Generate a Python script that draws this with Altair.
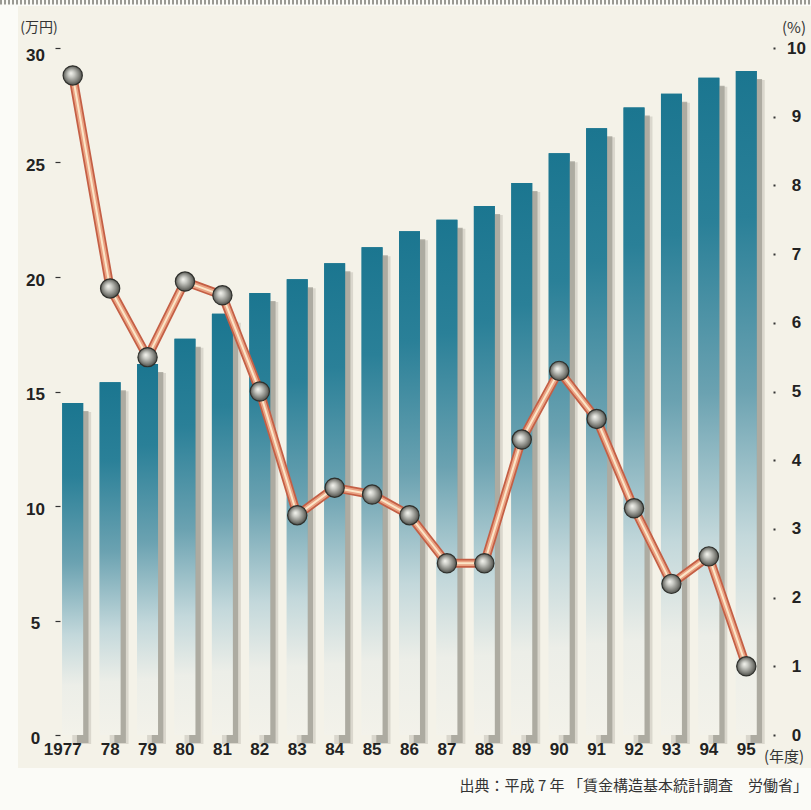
import altair as alt
import pandas as pd

years = ["1977", "78", "79", "80", "81", "82", "83", "84", "85", "86",
         "87", "88", "89", "90", "91", "92", "93", "94", "95"]
wage = [14.5, 15.4, 16.2, 17.3, 18.4, 19.3, 19.9, 20.6, 21.3, 22.0,
        22.5, 23.1, 24.1, 25.4, 26.5, 27.4, 28.0, 28.7, 29.0]
rate = [9.6, 6.5, 5.5, 6.6, 6.4, 5.0, 3.2, 3.6, 3.5, 3.2,
        2.5, 2.5, 4.3, 5.3, 4.6, 3.3, 2.2, 2.6, 1.0]

df = pd.DataFrame({"year": years, "wage": wage, "rate": rate})

W, H = 711, 687
PL, PT = 54, 48
NUM_FONT = "Liberation Sans"
JP_FONT = "Noto Sans CJK JP"

xscale = alt.Scale(paddingInner=0.44, paddingOuter=0.22)
xenc_axis = alt.X(
    "year:N", sort=years, scale=xscale, title=None,
    axis=alt.Axis(
        orient="bottom", domain=False, ticks=False, labelAngle=0, zindex=2,
        labelFont=NUM_FONT, labelFontWeight="bold", labelFontSize=17,
        labelColor="#222222", labelPadding=14, labelBaseline="middle",
        labelOffset={"condition": {"test": "datum.value == '1977'", "value": -10}, "value": 0},
    ),
)
xenc = alt.X("year:N", sort=years, scale=xscale, title=None)

ywage = alt.Scale(domain=[0, 30], nice=False, zero=True)
ywage_axis = alt.Y(
    "wage:Q", scale=ywage, title=None,
    axis=alt.Axis(
        orient="left", values=[0, 5, 10, 15, 20, 25, 30], format="d",
        domain=False, grid=False,
        offset=-6, tickSize=5, tickColor="#333333", tickWidth=1.2, zindex=2,
        labelFont=NUM_FONT, labelFontWeight="bold", labelFontSize=17,
        labelColor="#222222", labelAlign="center", labelPadding=20,
        labelOffset={"condition": {"test": "datum.value == 30", "value": 7}, "value": 3},
    ),
)

base = alt.Chart(df)

bar_grad = alt.Gradient(
    gradient="linear", x1=0, y1=0, x2=0, y2=1,
    stops=[
        alt.GradientStop(offset=0.0, color="#1b7690"),
        alt.GradientStop(offset=0.22, color="#2a8098"),
        alt.GradientStop(offset=0.48, color="#6ba2b1"),
        alt.GradientStop(offset=0.7, color="#c3d8db"),
        alt.GradientStop(offset=0.85, color="#eceee8"),
        alt.GradientStop(offset=1.0, color="#f3f2ea"),
    ],
)
bars = base.mark_bar(color=bar_grad).encode(x=xenc_axis, y=ywage_axis)
shadow_soft = base.mark_bar(color="#a8a79c", opacity=0.35, xOffset=9, yOffset=9,
                            width={"band": 0.9}).encode(x=xenc, y=alt.Y("wage:Q", scale=ywage))
shadow_core = base.mark_bar(color="#9a998e", opacity=0.7, xOffset=10, yOffset=8,
                            width={"band": 0.55}).encode(x=xenc, y=alt.Y("wage:Q", scale=ywage))

bar_layer = alt.layer(bars, shadow_soft, shadow_core, bars)

yrate = alt.Scale(domain=[0, 10], nice=False, zero=True)
yrate_axis = alt.Y(
    "rate:Q", scale=yrate, title=None,
    axis=alt.Axis(
        orient="right", values=list(range(0, 11)), format="d",
        domain=False, grid=False,
        offset=8, tickSize=2, tickWidth=2, tickColor="#333333", zindex=2,
        labelFont=NUM_FONT, labelFontWeight="bold", labelFontSize=17,
        labelColor="#222222", labelAlign="center", labelPadding=21,
    ),
)
yrate_plain = alt.Y("rate:Q", scale=yrate)

tube_outer = base.mark_line(color="#c45f45", strokeWidth=9, strokeJoin="round").encode(
    x=xenc, y=yrate_axis)
tube_mid = base.mark_line(color="#eaa283", strokeWidth=5.5, strokeJoin="round").encode(
    x=xenc, y=yrate_plain)
tube_core = base.mark_line(color="#fbe6c8", strokeWidth=2, strokeJoin="round").encode(
    x=xenc, y=yrate_plain)

ball_grad = alt.Gradient(
    gradient="radial", x1=0.4, y1=0.38, r1=0, x2=0.5, y2=0.5, r2=0.55,
    stops=[
        alt.GradientStop(offset=0.0, color="#f6f6f0"),
        alt.GradientStop(offset=0.3, color="#c9cac4"),
        alt.GradientStop(offset=0.7, color="#7e7f79"),
        alt.GradientStop(offset=1.0, color="#3e3f3b"),
    ],
)
balls = base.mark_circle(size=370, color=ball_grad, opacity=1, stroke="#2f302c",
                         strokeWidth=1.2).encode(x=xenc, y=yrate_plain)

line_layer = alt.layer(tube_outer, tube_mid, tube_core, balls)

one = alt.Data(values=[{"k": 1}])

panel = alt.Chart(one).mark_rect(color="#f4f2e8").encode(
    x=alt.value(18 - PL), x2=alt.value(811 - PL), y=alt.value(6 - PT), y2=alt.value(768 - PT))
topband = alt.Chart(one).mark_rule(color="#9a9a94", strokeWidth=5, strokeDash=[2, 2]).encode(
    x=alt.value(-PL), x2=alt.value(811 - PL), y=alt.value(2 - PT))


def label(txt, px, py, size=14, align="center", font=JP_FONT, weight="normal"):
    return alt.Chart(one).mark_text(
        text=txt, font=font, fontSize=size, align=align, baseline="middle",
        color="#333333", fontWeight=weight,
    ).encode(x=alt.value(px - PL), y=alt.value(py - PT))


t_yen = label("(万円)", 39, 28, size=14)
t_pct = label("(%)", 794, 28, size=15)
t_year = label("(年度)", 784, 757, size=15)
t_src = label("出典：平成 7 年 「賃金構造基本統計調査　労働省」", 808, 786, size=15, align="right")

chart = alt.layer(
    panel, topband, bar_layer, line_layer, t_yen, t_pct, t_year, t_src
).resolve_scale(y="independent").properties(
    width=W, height=H,
    autosize=alt.AutoSizeParams(type="none"),
    padding={"left": PL, "top": PT, "right": 811 - PL - W, "bottom": 810 - PT - H},
    background="#fbfbf7",
).configure_view(stroke=None)

chart.save("out.html", embed_options={"renderer": "svg", "actions": False})
